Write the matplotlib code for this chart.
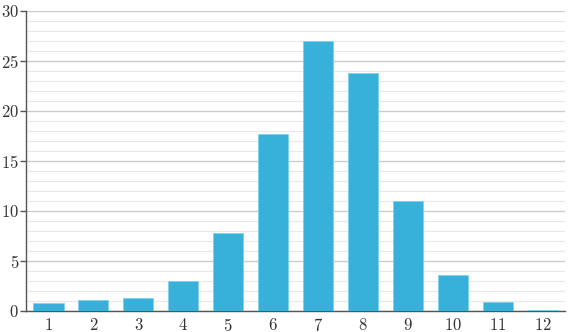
import matplotlib
matplotlib.use("Agg")
import matplotlib.pyplot as plt
from matplotlib.ticker import MultipleLocator

plt.rcParams["font.family"] = "serif"
plt.rcParams["font.serif"] = ["cmr10", "DejaVu Serif"]
plt.rcParams["axes.formatter.use_mathtext"] = True

categories = [1, 2, 3, 4, 5, 6, 7, 8, 9, 10, 11, 12]
values = [0.8, 1.1, 1.3, 3.0, 7.8, 17.7, 27.0, 23.8, 11.0, 3.6, 0.9, 0.1]

fig = plt.figure(figsize=(5.72, 3.32), dpi=100)
ax = fig.add_axes([0.0455, 0.0633, 0.9423, 0.9036])

ax.bar(categories, values, width=0.67, color="#38b1da", edgecolor="#7fd0ea",
       linewidth=0.6, zorder=3)

ax.set_xlim(0.5, 12.5)
ax.set_ylim(0, 30)
ax.set_xticks(categories)
ax.yaxis.set_major_locator(MultipleLocator(5))
ax.yaxis.set_minor_locator(MultipleLocator(1))

ax.grid(axis="y", which="major", color="#cccccc", linewidth=1.0, zorder=0)
ax.grid(axis="y", which="minor", color="#e8e8e8", linewidth=0.8, zorder=0)

for side in ("top", "right"):
    ax.spines[side].set_visible(False)
ax.spines["left"].set_color("#555555")
ax.spines["bottom"].set_color("#555555")
ax.spines["left"].set_linewidth(1.0)
ax.spines["bottom"].set_linewidth(1.0)

ax.tick_params(axis="x", length=0, pad=4, labelsize=12, colors="#333333")
ax.tick_params(axis="y", which="major", length=4, width=1, color="#555555",
               labelsize=12, labelcolor="#333333", pad=1)
ax.tick_params(axis="y", which="minor", length=0)

fig.savefig("out.png", dpi=100)
